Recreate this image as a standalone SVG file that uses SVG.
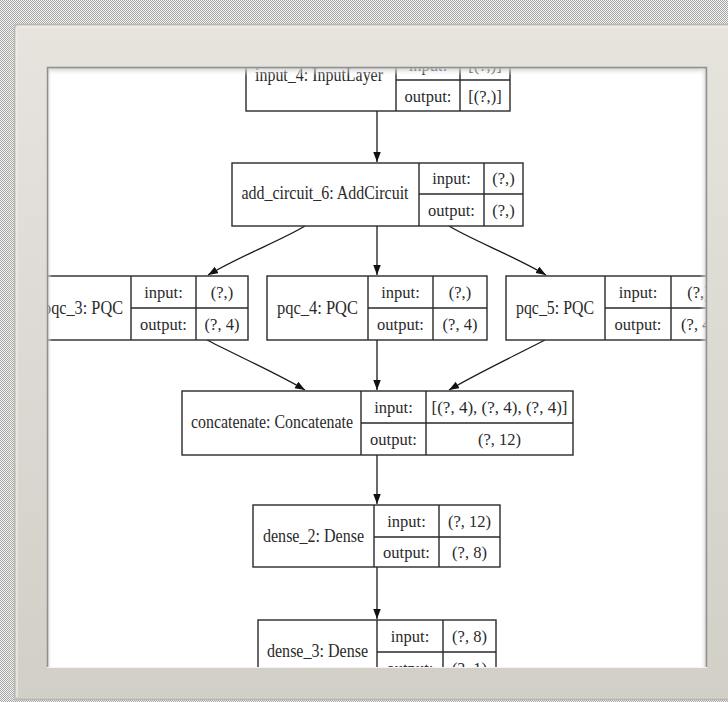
<svg xmlns="http://www.w3.org/2000/svg" width="728" height="702" viewBox="0 0 728 702">
<defs>
<pattern id="dots" width="2" height="2" patternUnits="userSpaceOnUse">
<rect width="2" height="2" fill="#f2f2f2"/>
<rect width="1" height="1" fill="#a8a8a8"/>
<rect x="1" y="1" width="1" height="1" fill="#a8a8a8"/>
</pattern>
<linearGradient id="frameG" x1="0" y1="0" x2="0" y2="1">
<stop offset="0" stop-color="#e6e4dd"/>
<stop offset="1" stop-color="#d2cfc7"/>
</linearGradient>
<linearGradient id="topSh" x1="0" y1="0" x2="0" y2="1">
<stop offset="0" stop-color="#bdbdbd" stop-opacity="0.9"/>
<stop offset="1" stop-color="#ffffff" stop-opacity="0"/>
</linearGradient>
<linearGradient id="leftSh" x1="0" y1="0" x2="1" y2="0">
<stop offset="0" stop-color="#bdbdbd" stop-opacity="0.9"/>
<stop offset="1" stop-color="#ffffff" stop-opacity="0"/>
</linearGradient>
<linearGradient id="rightSh" x1="1" y1="0" x2="0" y2="0">
<stop offset="0" stop-color="#bdbdbd" stop-opacity="0.9"/>
<stop offset="1" stop-color="#ffffff" stop-opacity="0"/>
</linearGradient>
<clipPath id="inner"><rect x="47" y="67" width="660" height="600"/></clipPath>
<marker id="arr" markerWidth="11" markerHeight="8" refX="10" refY="3.75" orient="auto" markerUnits="userSpaceOnUse">
<path d="M0,0 L10,3.75 L0,7.5 z" fill="#111"/>
</marker>
</defs>
<style>
.box{fill:#fff;stroke:#2a2a2a;stroke-width:1.4}
.ln{stroke:#2a2a2a;stroke-width:1.4;fill:none}
.edge{stroke:#1a1a1a;stroke-width:1.3;fill:none;marker-end:url(#arr)}
text{font-family:"Liberation Serif","Times New Roman",serif;fill:#2a2a2a;text-anchor:middle}
.nm{font-size:18px}
.lb{font-size:16.5px}
</style>
<rect width="728" height="702" fill="url(#dots)"/>
<rect x="14" y="24" width="720" height="676" rx="4" fill="url(#frameG)"/>
<path d="M14.5,698 V28 Q14.5,24.5 18,24.5 H728" fill="none" stroke="#b9b7b0" stroke-width="1.5"/>
<path d="M17,697 V30 Q17,27 20,27 H728" fill="none" stroke="#f1efe9" stroke-width="1.2"/>
<line x1="14" y1="699.5" x2="728" y2="699.5" stroke="#b8b5ad" stroke-width="1.5"/>
<rect x="47" y="67" width="660" height="600" fill="#ffffff"/>
<g clip-path="url(#inner)">
<g id="connectors">
<path class="edge" d="M377,111 V162"/>
<path class="edge" d="M377,226 V275"/>
<path class="edge" d="M305,226 C282,240 240,256 208,275"/>
<path class="edge" d="M449,226 C472,240 514,256 546,275"/>
<path class="edge" d="M207,340 C240,357 278,374 305,390"/>
<path class="edge" d="M377,340 V390"/>
<path class="edge" d="M545,340 C512,357 476,374 449,390"/>
<path class="edge" d="M377,455 V504"/>
<path class="edge" d="M377,567 V619"/>
</g>
<g id="input_4">
<rect class="box" x="246" y="49" width="264" height="62"/>
<path class="ln" d="M396,49 V111 M460,49 V111 M396,80 H510"/>
<text class="nm" x="319" y="81" textLength="128" lengthAdjust="spacingAndGlyphs">input_4: InputLayer</text>
<text class="lb" x="428" y="71">input:</text>
<text class="lb" x="485" y="71">[(?,)]</text>
<text class="lb" x="428" y="102">output:</text>
<text class="lb" x="485" y="102">[(?,)]</text>
</g>
<g id="add_circuit_6">
<rect class="box" x="232" y="163" width="291" height="63"/>
<path class="ln" d="M419,163 V226 M484,163 V226 M419,194 H523"/>
<text class="nm" x="325" y="199" textLength="167" lengthAdjust="spacingAndGlyphs">add_circuit_6: AddCircuit</text>
<text class="lb" x="451.5" y="184">input:</text>
<text class="lb" x="503.5" y="184">(?,)</text>
<text class="lb" x="451.5" y="216">output:</text>
<text class="lb" x="503.5" y="216">(?,)</text>
</g>
<g id="pqc_3">
<rect class="box" x="35" y="276" width="213" height="64"/>
<path class="ln" d="M131,276 V340 M196,276 V340 M131,308 H248"/>
<text class="nm" x="83" y="314" textLength="80" lengthAdjust="spacingAndGlyphs">pqc_3: PQC</text>
<text class="lb" x="163.5" y="298">input:</text>
<text class="lb" x="222" y="298">(?,)</text>
<text class="lb" x="163.5" y="330">output:</text>
<text class="lb" x="222" y="330">(?, 4)</text>
</g>
<g id="pqc_4">
<rect class="box" x="267" y="276" width="220" height="64"/>
<path class="ln" d="M368,276 V340 M433,276 V340 M368,308 H487"/>
<text class="nm" x="317.5" y="314" textLength="81" lengthAdjust="spacingAndGlyphs">pqc_4: PQC</text>
<text class="lb" x="400.5" y="298">input:</text>
<text class="lb" x="460" y="298">(?,)</text>
<text class="lb" x="400.5" y="330">output:</text>
<text class="lb" x="460" y="330">(?, 4)</text>
</g>
<g id="pqc_5">
<rect class="box" x="506" y="276" width="220" height="64"/>
<path class="ln" d="M605,276 V340 M671,276 V340 M605,308 H726"/>
<text class="nm" x="555" y="314" textLength="78" lengthAdjust="spacingAndGlyphs">pqc_5: PQC</text>
<text class="lb" x="638" y="298">input:</text>
<text class="lb" x="698.5" y="298">(?,)</text>
<text class="lb" x="638" y="330">output:</text>
<text class="lb" x="698.5" y="330">(?, 4)</text>
</g>
<g id="concatenate">
<rect class="box" x="182" y="391" width="391" height="64"/>
<path class="ln" d="M361,391 V455 M426,391 V455 M361,423 H573"/>
<text class="nm" x="272" y="428" textLength="162" lengthAdjust="spacingAndGlyphs">concatenate: Concatenate</text>
<text class="lb" x="393.5" y="413">input:</text>
<text class="lb" x="499.5" y="413" textLength="136" lengthAdjust="spacingAndGlyphs">[(?, 4), (?, 4), (?, 4)]</text>
<text class="lb" x="393.5" y="445">output:</text>
<text class="lb" x="499.5" y="445">(?, 12)</text>
</g>
<g id="dense_2">
<rect class="box" x="253" y="505" width="247" height="62"/>
<path class="ln" d="M374,505 V567 M439,505 V567 M374,537 H500"/>
<text class="nm" x="313.5" y="542" textLength="101" lengthAdjust="spacingAndGlyphs">dense_2: Dense</text>
<text class="lb" x="406.5" y="527">input:</text>
<text class="lb" x="469.5" y="527">(?, 12)</text>
<text class="lb" x="406.5" y="558">output:</text>
<text class="lb" x="469.5" y="558">(?, 8)</text>
</g>
<g id="dense_3">
<rect class="box" x="258" y="620" width="238" height="64"/>
<path class="ln" d="M377,620 V684 M443,620 V684 M377,652 H496"/>
<text class="nm" x="317.5" y="657" textLength="101" lengthAdjust="spacingAndGlyphs">dense_3: Dense</text>
<text class="lb" x="410" y="642">input:</text>
<text class="lb" x="469.5" y="642">(?, 8)</text>
<text class="lb" x="410" y="674">output:</text>
<text class="lb" x="469.5" y="674">(?, 1)</text>
</g>
</g>
<rect x="47" y="67" width="660" height="9" fill="url(#topSh)"/>
<rect x="47" y="67" width="5" height="600" fill="url(#leftSh)"/>
<rect x="700" y="67" width="7" height="600" fill="url(#rightSh)"/>
<path d="M47.5,667 V67.5 H706.5 V667" fill="none" stroke="#8f8f8f" stroke-width="1.5"/>
<line x1="47" y1="667.5" x2="707" y2="667.5" stroke="#f4f3ef" stroke-width="1.2"/>
</svg>
